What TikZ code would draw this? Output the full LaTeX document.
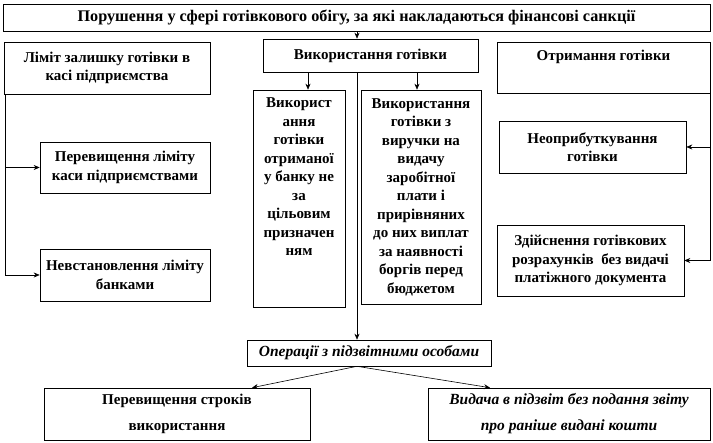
\documentclass[tikz,border=0pt]{standalone}
\usepackage{fontspec}
\setmainfont{Liberation Serif}
\usetikzlibrary{arrows.meta,positioning,shadows}

\begin{document}
\begin{tikzpicture}[x=1pt,y=-1pt]
\tikzset{
  sanctbox/.style={rectangle,draw=black,line width=0.6pt,fill=white,align=center,inner sep=2pt,
    font=\fontsize{15}{18.5}\selectfont\bfseries,
    drop shadow={shadow xshift=1.4pt,shadow yshift=-1.4pt,fill=black!35,opacity=1}},
  widebox/.style={sanctbox,font=\fontsize{15}{26}\selectfont\bfseries},
  link/.style={draw=black,line width=0.6pt},
  arrowlink/.style={link,-{Stealth[length=6pt,width=5pt]}}
}
\useasboundingbox (0,0) rectangle (713,443);
\node[sanctbox,minimum width=707pt,minimum height=27pt,font=\fontsize{16.2}{18.5}\selectfont\bfseries] (n_title) at (356.5,17.5)
  {Порушення у сфері готівкового обігу, за які накладаються фінансові санкції};
\node[sanctbox,minimum width=206pt,minimum height=52pt] (n_limit) at (107,68)
  {Ліміт залишку готівки в\\касі підприємства};
\node[sanctbox,minimum width=215pt,minimum height=33pt] (n_use) at (370.5,55.5)
  {Використання готівки};
\node[sanctbox,minimum width=213pt,minimum height=51pt,text depth=25pt] (n_recv) at (603.5,67.5)
  {Отримання готівки};
\node[sanctbox,minimum width=170pt,minimum height=51pt] (n_over) at (125,167.5)
  {Перевищення ліміту\\каси підприємствами};
\node[sanctbox,minimum width=170pt,minimum height=52pt] (n_nolimit) at (125,275)
  {Невстановлення ліміту\\банками};
\node[sanctbox,minimum width=92pt,minimum height=217pt,text depth=43pt] (n_use1) at (299,198.5)
  {Використ\\ання\\готівки\\отриманої\\у банку не\\за\\цільовим\\призначен\\ням};
\node[sanctbox,minimum width=120pt,minimum height=214pt] (n_use2) at (421,197)
  {Використання\\готівки з\\виручки на\\видачу\\заробітної\\плати і\\прирівняних\\до них виплат\\за наявності\\боргів перед\\бюджетом};
\node[sanctbox,minimum width=187pt,minimum height=52pt] (n_cash1) at (592.5,147)
  {Неоприбуткування\\готівки};
\node[sanctbox,minimum width=187pt,minimum height=71pt] (n_cash2) at (590.5,260.5)
  {Здійснення готівкових\\розрахунків\ \ без видачі\\платіжного документа};
\node[sanctbox,minimum width=244pt,minimum height=26pt,font=\fontsize{15.5}{18.5}\selectfont\bfseries\itshape] (n_ops) at (369,353)
  {Операції з підзвітними особами};
\node[widebox,minimum width=266pt,minimum height=52pt] (n_term) at (177,414)
  {Перевищення строків\\використання};
\node[widebox,minimum width=282pt,minimum height=52pt,font=\fontsize{15.5}{26}\selectfont\bfseries\itshape] (n_advance) at (569,414)
  {Видача в підзвіт без подання звіту\\про раніше видані кошти};
% rails and branch points
\coordinate (c_mid) at (357,0);
\coordinate (c_left) at (308,0);
\coordinate (c_right) at (417,0);
\coordinate (c_rail) at (5,0);
\coordinate (c_rrail) at (710,0);
\coordinate (c_tipl) at (252,0);
\coordinate (c_tipr) at (490,0);
\draw[arrowlink] (n_title.south -| c_mid) -- (n_use.north -| c_mid);
\draw[arrowlink] (n_use.south -| c_left) -- (n_use1.north -| c_left);
\draw[arrowlink] (n_use.south -| c_right) -- (n_use2.north -| c_right);
\draw[arrowlink] (n_use.south -| c_mid) -- (n_ops.north -| c_mid);
\draw[arrowlink] (n_limit.south -| c_rail) |- (n_nolimit.west);
\draw[arrowlink] (n_over.west -| c_rail) -- (n_over.west);
\draw[arrowlink] (n_recv.south -| c_rrail) |- (n_cash2.east);
\draw[arrowlink] (n_cash1.east -| c_rrail) -- (n_cash1.east);
\draw[arrowlink] (n_ops.south -| c_mid) -- (n_term.north -| c_tipl);
\draw[arrowlink] (n_ops.south -| c_mid) -- (n_advance.north -| c_tipr);
\end{tikzpicture}
\end{document}
